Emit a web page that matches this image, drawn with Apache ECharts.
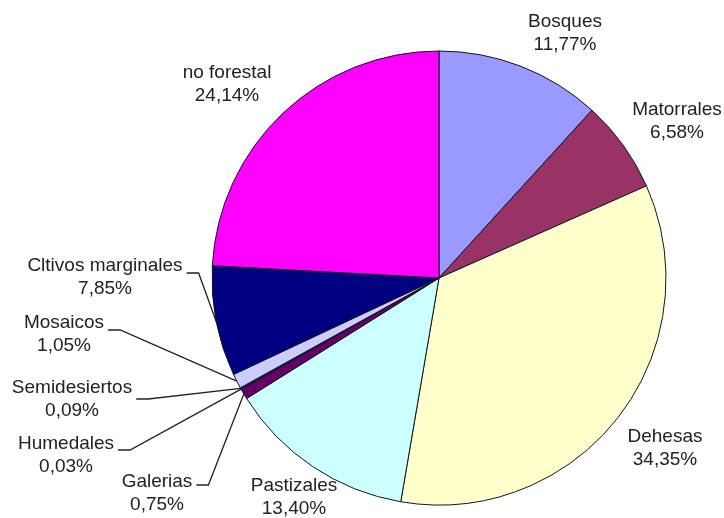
<!DOCTYPE html>
<html>
<head>
<meta charset="utf-8">
<script src="https://cdn.jsdelivr.net/npm/echarts@6/dist/echarts.min.js"></script>
<style>
html,body{margin:0;padding:0;background:#fff;}
#chart{width:724px;height:518px;}
</style>
</head>
<body>
<div id="chart"></div>
<script>
// ---- data ----
var categories = ['Bosques', 'Matorrales', 'Dehesas', 'Pastizales', 'Galerias', 'Humedales', 'Semidesiertos', 'Mosaicos', 'Cltivos marginales', 'no forestal'];
var values = [11.77, 6.58, 34.35, 13.40, 0.75, 0.03, 0.09, 1.05, 7.85, 24.14];
var colors = ['#9999FF', '#993366', '#FFFFCC', '#CCFFFF', '#660066', '#FF8080', '#0066CC', '#CCCCFF', '#000080', '#FF00FF'];
var withLeader = [false, false, false, false, true, true, true, true, true, false];

// ---- layout (label placement: centre x, centre y, leader-line y offset) ----
var CX = 439, CY = 278, R = 227;
var labelPlace = [
  [565, 33, 0], [677, 121, 0], [665, 448, 0], [294, 497, 0],
  [157, 493, -8], [66, 455, -5], [72, 399, 0], [64, 334, -4],
  [105, 277, -4], [227, 84, 0]
];

var total = values.reduce(function (a, b) { return a + b; }, 0);
function arcMid(i) {
  var cum = 0;
  for (var k = 0; k < i; k++) cum += values[k];
  var th = (cum + values[i] / 2) / total * 2 * Math.PI;
  return [CX + R * Math.sin(th), CY - R * Math.cos(th)];
}

var data = categories.map(function (name, i) {
  return {
    name: name,
    value: values[i],
    itemStyle: { color: colors[i] },
    labelLine: { show: withLeader[i] }
  };
});

var chart = echarts.init(document.getElementById('chart'), null, { renderer: 'canvas' });
chart.setOption({
  backgroundColor: '#ffffff',
  animation: false,
  series: [{
    type: 'pie',
    center: [CX, CY],
    radius: R,
    startAngle: 90,
    clockwise: true,
    avoidLabelOverlap: false,
    data: data,
    itemStyle: { borderColor: '#141420', borderWidth: 1 },
    emphasis: { disabled: true },
    label: {
      show: true,
      position: 'outside',
      fontFamily: 'Liberation Sans, Arial, sans-serif',
      fontSize: 19,
      lineHeight: 23,
      color: '#222222',
      formatter: function (p) {
        return p.name + '\n' + p.value.toFixed(2).replace('.', ',') + '%';
      }
    },
    labelLine: {
      show: true,
      length: 10,
      length2: 12,
      lineStyle: { color: '#222222', width: 1.3 }
    },
    labelLayout: function (params) {
      var i = params.dataIndex;
      var p = labelPlace[i];
      var out = { x: p[0], y: p[1], align: 'center', verticalAlign: 'middle' };
      if (withLeader[i]) {
        var w = params.labelRect.width;
        var xr = p[0] + w / 2 + 4;
        var ly = p[1] + p[2];
        out.labelLinePoints = [arcMid(i), [xr + 12, ly], [xr, ly]];
      }
      return out;
    }
  }]
});
</script>
</body>
</html>
